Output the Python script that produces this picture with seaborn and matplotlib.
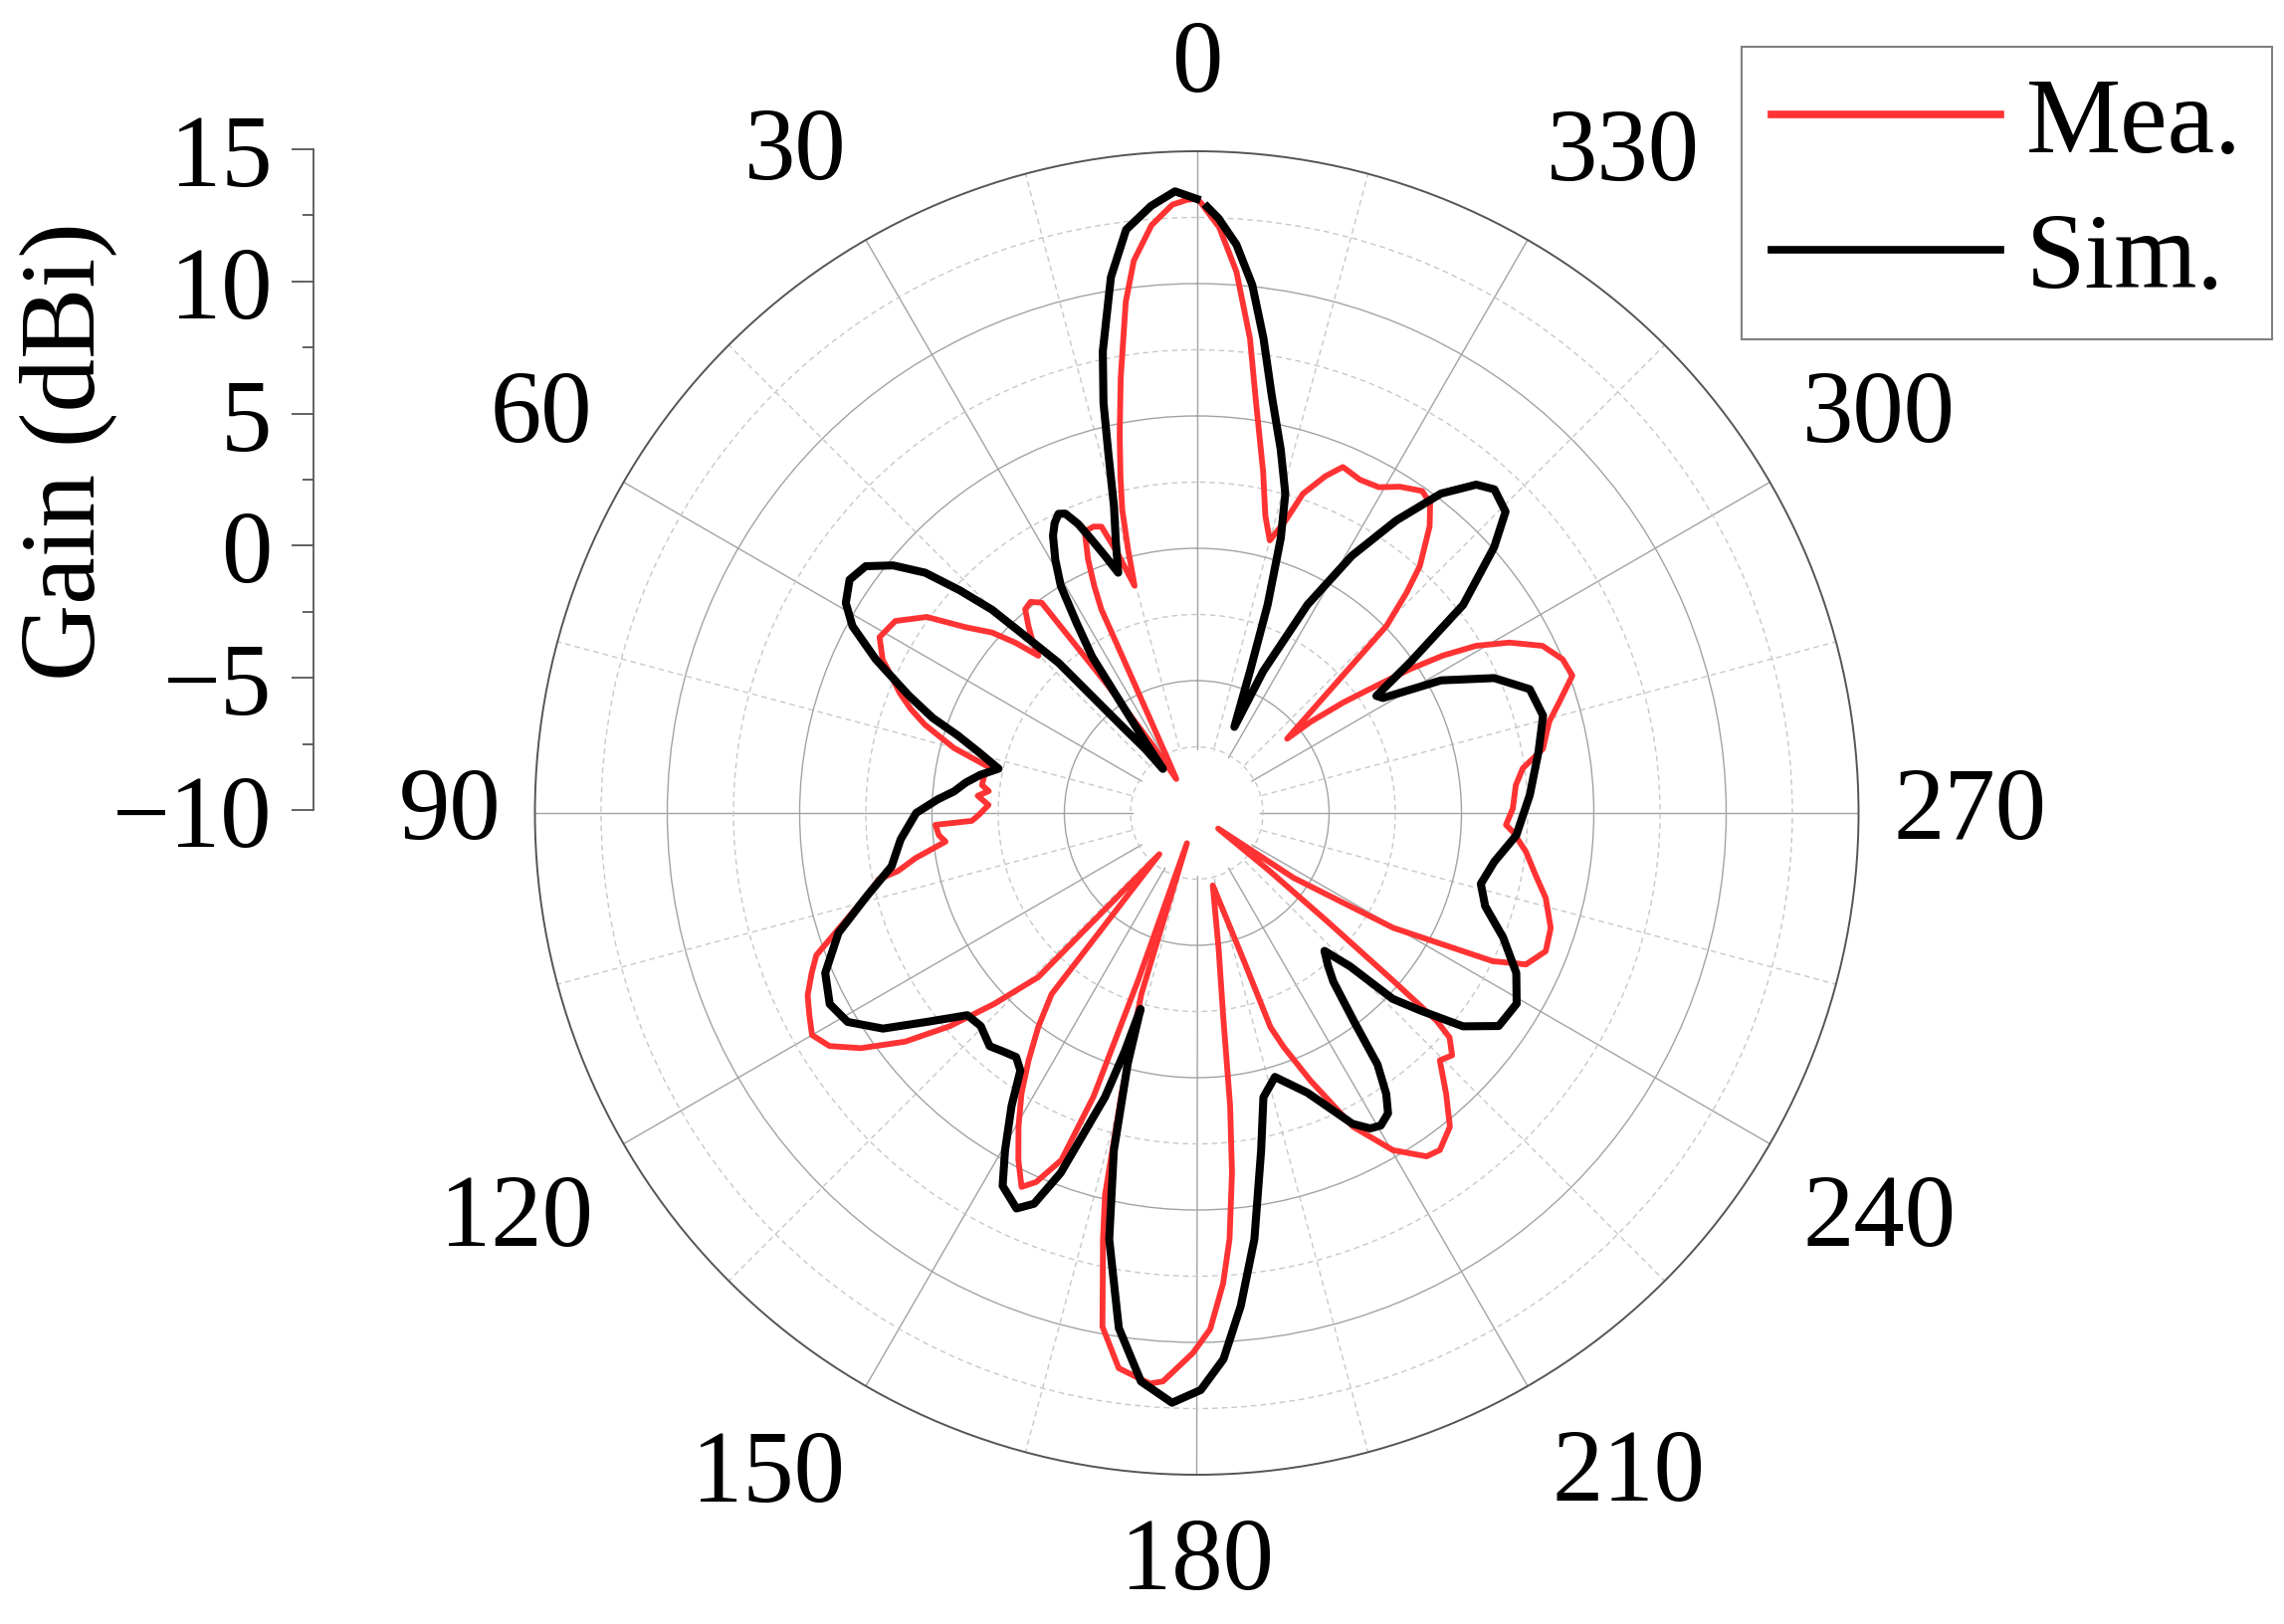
import numpy as np
import matplotlib
matplotlib.use("Agg")
import matplotlib.pyplot as plt
import seaborn as sns
from matplotlib.ticker import FixedLocator

# ---------------- data ----------------
series_names = ["Mea.", "Sim."]

mea_theta = [0, 0.9, 2.3, 4.4, 6.5, 7.9, 9.9, 11.5, 12.8, 13.8, 14.6, 15.3, 17.0, 18.4, 19.8,
             21.7, 23.2, 24.3, 25.1, 25.6, 28.1, 31.0, 33.0, 34.9, 36.4, 38.2, 40.1, 42.0,
             43.6, 45.2, 46.8, 48.6, 51.2, 54.0, 57.5, 61.0, 64.0, 66.0, 68.0, 70.0, 72.0,
             75.0, 77.8, 80.0, 82.6, 84.0, 85.5, 87.8, 90.5, 92.0, 92.6, 94.9, 96.5, 99.1,
             101.0, 101.8, 104.3, 107.9, 110.5, 112.5, 115.1, 117.5, 120.0, 122.4, 125.0,
             128.1, 130.8, 133.3, 136.0, 137.8, 141.3, 143.5, 145.8, 148.0, 150.4, 152.8,
             154.9, 156.5, 158.7, 160.0, 160.7, 162.0, 163.0, 165.0, 166.5, 167.6, 169.6,
             172.0, 175.3, 176.6, 179.6, 181.5, 183.2, 184.4, 185.6, 186.5, 187.4, 189.1,
             192.5, 197.7, 199.0, 200.4, 203.0, 206.5, 210.2, 213.8, 215.8, 218.9, 221.6,
             224.5, 226.5, 228.4, 229.1, 229.5, 230.3, 231.5, 234.0, 236.2, 239.7, 243.4,
             245.3, 248.4, 252.0, 256.3, 259.7, 263.3, 266.6, 267.8, 270.8, 275.0, 277.8,
             280.5, 284.5, 287.0, 290.1, 292.8, 295.8, 298.6, 300.9, 302.6, 304.0, 305.3,
             307.0, 308.7, 309.4, 313.9, 314.6, 316.4, 317.9, 320.9, 323.0, 325.0, 328.1,
             330.8, 333.9, 337.1, 339.1, 341.6, 343.1, 345.0, 347.0, 349.0, 351.7, 353.6,
             355.8, 357.8, 359.6, 360.0]
mea_gain = [13.2, 13.17, 13.0, 12.27, 11.0, 9.5, 6.7, 4.6, 3.0, 1.8, 0.3, -1.1, 0.3, 1.4, 1.5,
            1.45, 0.42, -0.6, -1.5, -4.2, -7.6, -8.5, -7.0, -4.1, -0.13, 0.15, 0.06, -0.5,
            -1.0, -1.57, -0.6, 0.31, 1.2, 2.6, 3.5, 3.7, 3.2, 2.6, 2.1, 1.5, 0.8,
            -0.5, -2.08, -1.85, -1.82, -2.1, -1.7, -2.13, -1.77, -1.5, -0.12, -0.22, -0.45, 0.75,
            1.5, 2.28, 2.92, 4.21, 5.34, 5.74, 6.23, 6.5, 6.78, 6.43, 5.49,
            4.0, 2.33, 0.52, -1.38, -7.9, -1.23, 0.07, 1.3, 2.49, 3.63, 4.74,
            5.6, 5.2, 4.07, 1.4, -3.3, -8.8, -2.84, 0.98, 4.84, 6.49, 9.73,
            11.18, 11.63, 11.51, 10.4, 9.5, 7.81, 6.15, 3.65, 1.14, -2.22, -4.74,
            -7.2, -4.13, -1.44, -0.56, 0.97, 3.25, 4.74, 5.61, 5.7, 5.23, 4.19,
            3.1, 3.3, 2.77, 1.98, -0.24, -3.6, -6.5, -9.0, -5.59, -1.4, 2.5,
            3.69, 4.18, 4.06, 3.57, 3.0, 2.52, 1.96, 1.69, 1.94, 2.1, 2.43,
            3.3, 3.75, 4.32, 5.11, 4.99, 4.51, 3.45, 2.3, 1.04, -0.28, -1.67,
            -3.05, -4.5, -5.58, -1.43, 0.07, 1.49, 2.57, 3.95, 4.65, 4.85, 4.52,
            4.1, 4.02, 4.19, 3.62, 2.71, 1.55, 0.66, 1.52, 3.14, 5.58, 8.04,
            10.5, 12.14, 13.05, 13.2]

sim_theta = [0, 2.0, 4.3, 6.9, 9.1, 11.5, 12.8, 13.8, 15.1, 16.6, 18.1, 19.6, 21.1, 22.3, 23.7,
             24.8, 26.1, 27.4, 29.2, 30.9, 32.3, 33.8, 34.7, 36.0, 37.5, 38.8, 40.6, 41.9,
             42.6, 44.1, 45.2, 46.8, 48.5, 50.8, 53.3, 56.1, 59.1, 61.5, 64.4, 67.8, 70.2,
             72.0, 74.4, 77.4, 80.0, 82.5, 84.9, 87.0, 90.0, 95.1, 99.9, 104.3, 108.5, 113.3,
             117.5, 120.9, 124.5, 127.8, 131.4, 134.6, 138.4, 141.0, 143.5, 145.6, 147.7,
             150.4, 152.5, 155.5, 157.4, 159.3, 162.1, 163.2, 164.0, 164.6, 166.2, 168.4,
             171.4, 174.4, 177.6, 180.4, 182.8, 185.1, 187.7, 190.8, 193.2, 196.5, 201.6,
             206.6, 208.8, 210.5, 212.5, 214.0, 215.7, 217.0, 219.0, 220.7, 222.8, 225.0,
             226.5, 228.6, 231.3, 234.8, 239.2, 243.4, 247.9, 252.1, 256.0, 260.7, 266.0,
             273.1, 280.2, 285.7, 290.4, 294.4, 298.5, 301.7, 303.1, 305.2, 308.0, 311.8,
             314.3, 317.4, 319.6, 322.6, 325.7, 328.9, 332.0, 334.9, 336.4, 339.4, 341.2,
             343.0, 344.5, 347.0, 349.8, 352.0, 354.0, 356.0, 357.9, 359.0]
sim_gain = [13.2, 13.5, 13.0, 12.2, 10.5, 7.8, 5.9, 4.0, 2.0, 0.7, -0.45, 0.3, 1.1, 1.8, 2.35,
            2.45, 2.2, 1.8, 0.95, 0.0, -1.5, -2.9, -5.2, -6.8, -7.9, -6.9, -5.8, -4.0,
            -2.3, -0.7, 0.9, 2.3, 3.7, 4.8, 5.6, 5.8, 5.45, 4.8, 3.45, 1.75, 0.6,
            -0.5, -1.45, -2.33, -1.7, -1.2, -0.8, -0.2, 0.6, 1.23, 1.7, 2.9, 4.27, 5.28,
            5.63, 5.37, 4.38, 2.87, 1.55, 1.46, 1.78, 1.6, 1.47, 1.79, 3.09,
            4.66, 5.88, 6.42, 5.99, 4.53, 1.28, -0.6, -2.3, -0.2, 3.13, 6.44,
            9.68, 11.58, 12.3, 11.8, 10.66, 8.7, 6.25, 2.98, 1.03, 0.4, 1.37,
            3.13, 3.6, 3.7, 3.45, 2.8, 1.7, -0.1, -1.8, -2.4, -2.9, -1.8,
            0.2, 1.3, 2.89, 3.96, 4.07, 3.5, 2.49, 1.45, 1.06, 1.39, 2.1,
            2.6, 3.12, 3.59, 3.42, 2.34, 0.5, -1.73, -1.9, -0.15, 2.77, 5.07,
            6.3, 6.61, 6.29, 5.19, 3.38, 1.35, -1.09, -4.09, -6.45, -4.29, -1.69,
            0.86, 2.52, 4.1, 6.01, 8.11, 10.06, 11.52, 12.48, 12.9]

angle_labels = [0, 30, 60, 90, 120, 150, 180, 210, 240, 270, 300, 330]
gain_ticks = [-10, -5, 0, 5, 10, 15]
gain_minor = [-7.5, -2.5, 2.5, 7.5, 12.5]

# ---------------- layout / style ----------------
R_MIN, R_MAX = -10, 15
label_theta_pos = [0, 31.3, 58.8, 90, 120.9, 147.1, 180, 213.1, 239.2, 270, 300.2, 327.1]
label_r_pos = [18.22, 19.17, 18.96, 18.23, 19.93, 19.8, 18.35, 19.85, 20.02, 19.21, 19.83, 19.66]
RED = "#ff3333"
GRID_SOLID = "#a3a3a3"
GRID_DASH = "#c8c8c8"
EDGE = "#555555"

plt.rcParams["font.family"] = ["Liberation Serif", "DejaVu Serif"]
plt.rcParams["axes.unicode_minus"] = True

W, H = 2295, 1633
fig = plt.figure(figsize=(W / 100, H / 100), dpi=100)
cx, cy, rad = 1202.5, 818.0, 665.0
ax = fig.add_axes([(cx - rad) / W, (H - cy - rad) / H, 2 * rad / W, 2 * rad / H],
                  projection="polar")
ax.set_theta_zero_location("N")
ax.set_theta_direction(1)
ax.set_ylim(R_MIN, R_MAX)
ax.set_axisbelow(True)

# radial rings
ax.set_yticks([-5, 0, 5, 10])
ax.yaxis.set_minor_locator(FixedLocator(gain_minor))
ax.set_yticklabels([])
ax.yaxis.grid(True, which="major", color=GRID_SOLID, lw=1.0, ls="-")
ax.yaxis.grid(True, which="minor", color=GRID_DASH, lw=1.0, ls=(0, (4, 3)))
ax.tick_params(axis="y", which="both", length=0)

# spokes
ax.set_xticks(np.deg2rad(np.arange(0, 360, 30)))
ax.xaxis.set_minor_locator(FixedLocator(np.deg2rad(np.arange(15, 360, 30))))
ax.set_xticklabels([])
ax.xaxis.grid(True, which="major", color=GRID_SOLID, lw=1.0, ls="-")
ax.xaxis.grid(True, which="minor", color=GRID_DASH, lw=1.0, ls=(0, (4, 3)))
ax.tick_params(axis="x", which="both", direction="in", length=11, width=1.2,
               color=EDGE, pad=0)
ax.spines["polar"].set_color(EDGE)
ax.spines["polar"].set_linewidth(1.4)

# blank hub in the centre (spokes start at the -7.5 ring)
hub_t = np.linspace(0, 2 * np.pi, 361)
ax.fill(hub_t, np.full_like(hub_t, -7.62), color="white", lw=0, zorder=1)

# curves
sns.lineplot(x=np.deg2rad(mea_theta), y=mea_gain, ax=ax, sort=False, estimator=None,
             color=RED, linewidth=4.2, label=series_names[0], zorder=3)
sns.lineplot(x=np.deg2rad(sim_theta), y=sim_gain, ax=ax, sort=False, estimator=None,
             color="black", linewidth=5.8, label=series_names[1], zorder=4)
ax.set_xlabel("")
ax.set_ylabel("")
ax.set_ylim(R_MIN, R_MAX)

# angle labels
for lab, th, r in zip(angle_labels, label_theta_pos, label_r_pos):
    ax.text(np.deg2rad(th), r, str(lab), ha="center", va="center", fontsize=74,
            clip_on=False)

# legend
leg = ax.legend(loc="upper right", bbox_to_anchor=(2283 / W, 1 - 48 / H),
                bbox_transform=fig.transFigure, borderaxespad=0, fontsize=77,
                frameon=True, fancybox=False, edgecolor="#808080", framealpha=1,
                handlelength=2.15, handletextpad=0.25, borderpad=0.28, labelspacing=0.36)
leg.get_frame().set_linewidth(1.5)
for ln in leg.get_lines():
    ln.set_linewidth(5.5)

# separate gain scale on the left
y_top, y_bot, x_ax = 151, 815, 315
ax2 = fig.add_axes([x_ax / W, 1 - y_bot / H, 0.0005, (y_bot - y_top) / H])
ax2.set_ylim(R_MIN, R_MAX)
ax2.set_yticks(gain_ticks)
ax2.yaxis.set_minor_locator(FixedLocator(gain_minor))
ax2.set_xticks([])
ax2.tick_params(axis="y", which="major", left=True, direction="out", length=16,
                width=1.3, color=EDGE, labelsize=74, pad=14)
ax2.tick_params(axis="y", which="minor", left=True, direction="out", length=8,
                width=1.3, color=EDGE)
for s in ["top", "right", "bottom"]:
    ax2.spines[s].set_visible(False)
ax2.spines["left"].set_color(EDGE)
ax2.spines["left"].set_linewidth(1.3)
ax2.patch.set_alpha(0)
ax2.set_ylabel("Gain (dBi)", fontsize=77)
ax2.yaxis.label.set_va("center")
ax2.yaxis.set_label_coords(69 / W, 1 - 454 / H, transform=fig.transFigure)

fig.savefig("out.png", dpi=100, facecolor="white")
